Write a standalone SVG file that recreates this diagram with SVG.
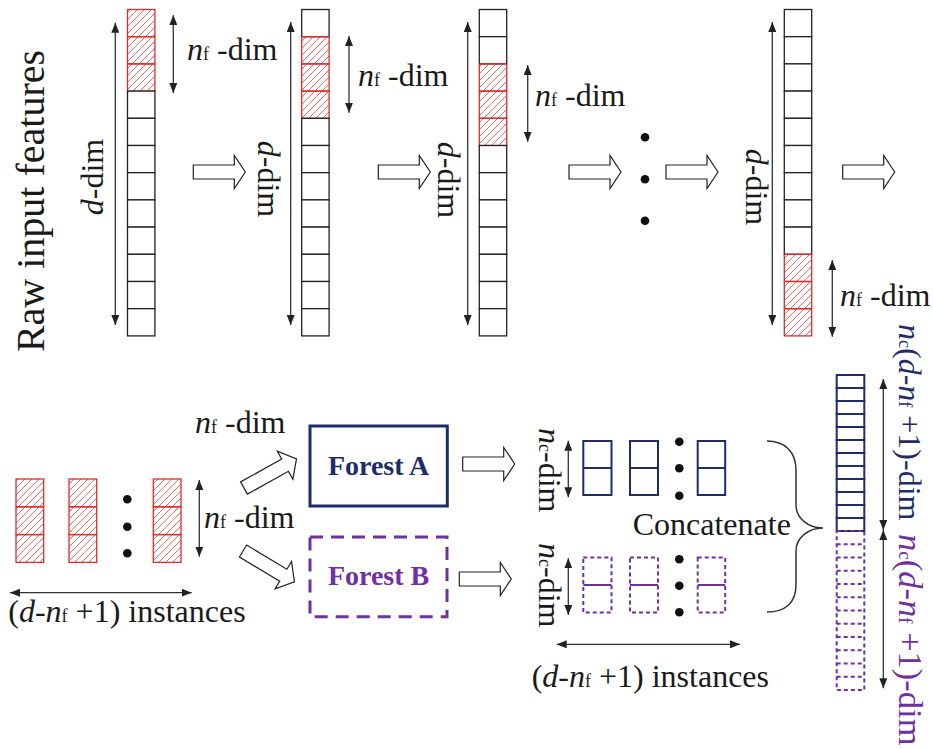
<svg xmlns="http://www.w3.org/2000/svg" width="933" height="749" viewBox="0 0 933 749" font-family="'Liberation Serif', 'DejaVu Serif', serif">
<defs>
<pattern id="hatch" patternUnits="userSpaceOnUse" width="7" height="7">
<path d="M0,7 L7,0 M-1,1 L1,-1 M6,8 L8,6" stroke="#e35a5a" stroke-width="0.9"/>
</pattern>
<marker id="ah" viewBox="0 0 10 8" refX="10" refY="4" markerWidth="10" markerHeight="8" markerUnits="userSpaceOnUse" orient="auto-start-reverse"><path d="M0,0 L10,4 L0,8 z" fill="#222"/></marker>
<polygon id="ba" points="0,-7 41,-7 41,-16.5 52,0 41,16.5 41,7 0,7"/>
<polygon id="bd" points="0,-7 47,-7 47,-16 60,0 47,16 47,7 0,7"/>
</defs>
<style>
text{font-family:'Liberation Serif','DejaVu Serif',serif}
.t{font-size:32px;fill:#1a1a1a}
.i{font-style:italic}
.s{font-size:18px;font-style:normal}
.c{fill:#fff;stroke:#222;stroke-width:1.3}
.r{fill:url(#hatch);stroke:#e02b2b;stroke-width:1.3}
.dim{stroke:#333;stroke-width:1.3;fill:none}
.blk{fill:#fff;stroke:#222;stroke-width:1.2}
.nv{fill:#fff;stroke:#1f2d66;stroke-width:2}
.pu{fill:none;stroke:#7030a0;stroke-width:2;stroke-dasharray:4 3}
.dot{fill:#111}
</style>
<rect width="933" height="749" fill="#fff"/>

<g id="raw-label">
<text class="t" style="font-size:40px" text-anchor="middle" transform="translate(44,201) rotate(-90)">Raw input features</text>
</g>

<g id="col1">
<rect class="r" x="127.5" y="9.5" width="27.4" height="27.2"/>
<rect class="r" x="127.5" y="36.7" width="27.4" height="27.2"/>
<rect class="r" x="127.5" y="63.9" width="27.4" height="27.2"/>
<rect class="c" x="127.5" y="91.1" width="27.4" height="27.2"/>
<rect class="c" x="127.5" y="118.3" width="27.4" height="27.2"/>
<rect class="c" x="127.5" y="145.5" width="27.4" height="27.2"/>
<rect class="c" x="127.5" y="172.7" width="27.4" height="27.2"/>
<rect class="c" x="127.5" y="199.9" width="27.4" height="27.2"/>
<rect class="c" x="127.5" y="227.1" width="27.4" height="27.2"/>
<rect class="c" x="127.5" y="254.3" width="27.4" height="27.2"/>
<rect class="c" x="127.5" y="281.5" width="27.4" height="27.2"/>
<rect class="c" x="127.5" y="308.7" width="27.4" height="27.2"/>
<text class="t" text-anchor="middle" transform="translate(103,177) rotate(-90)"><tspan class="i">d</tspan>-dim</text>
<text class="t" x="187" y="60"><tspan class="i">n</tspan><tspan class="s">f</tspan> -dim</text>
</g>

<g id="col2">
<rect class="c" x="301.7" y="9.5" width="27.4" height="27.2"/>
<rect class="r" x="301.7" y="36.7" width="27.4" height="27.2"/>
<rect class="r" x="301.7" y="63.9" width="27.4" height="27.2"/>
<rect class="r" x="301.7" y="91.1" width="27.4" height="27.2"/>
<rect class="c" x="301.7" y="118.3" width="27.4" height="27.2"/>
<rect class="c" x="301.7" y="145.5" width="27.4" height="27.2"/>
<rect class="c" x="301.7" y="172.7" width="27.4" height="27.2"/>
<rect class="c" x="301.7" y="199.9" width="27.4" height="27.2"/>
<rect class="c" x="301.7" y="227.1" width="27.4" height="27.2"/>
<rect class="c" x="301.7" y="254.3" width="27.4" height="27.2"/>
<rect class="c" x="301.7" y="281.5" width="27.4" height="27.2"/>
<rect class="c" x="301.7" y="308.7" width="27.4" height="27.2"/>
<text class="t" text-anchor="middle" transform="translate(258,179) rotate(90)"><tspan class="i">d</tspan>-dim</text>
<text class="t" x="358" y="86"><tspan class="i">n</tspan><tspan class="s">f</tspan> -dim</text>
</g>

<g id="col3">
<rect class="c" x="479.3" y="9.5" width="27.4" height="27.2"/>
<rect class="c" x="479.3" y="36.7" width="27.4" height="27.2"/>
<rect class="r" x="479.3" y="63.9" width="27.4" height="27.2"/>
<rect class="r" x="479.3" y="91.1" width="27.4" height="27.2"/>
<rect class="r" x="479.3" y="118.3" width="27.4" height="27.2"/>
<rect class="c" x="479.3" y="145.5" width="27.4" height="27.2"/>
<rect class="c" x="479.3" y="172.7" width="27.4" height="27.2"/>
<rect class="c" x="479.3" y="199.9" width="27.4" height="27.2"/>
<rect class="c" x="479.3" y="227.1" width="27.4" height="27.2"/>
<rect class="c" x="479.3" y="254.3" width="27.4" height="27.2"/>
<rect class="c" x="479.3" y="281.5" width="27.4" height="27.2"/>
<rect class="c" x="479.3" y="308.7" width="27.4" height="27.2"/>
<text class="t" text-anchor="middle" transform="translate(438,180) rotate(90)"><tspan class="i">d</tspan>-dim</text>
<text class="t" x="535" y="106"><tspan class="i">n</tspan><tspan class="s">f</tspan> -dim</text>
</g>

<g id="top-dots">
<circle class="dot" cx="645" cy="137.3" r="4.3"/>
<circle class="dot" cx="645" cy="179.3" r="4.3"/>
<circle class="dot" cx="645" cy="220.7" r="4.3"/>
</g>

<g id="col4">
<rect class="c" x="784.3" y="9.5" width="27.4" height="27.2"/>
<rect class="c" x="784.3" y="36.7" width="27.4" height="27.2"/>
<rect class="c" x="784.3" y="63.9" width="27.4" height="27.2"/>
<rect class="c" x="784.3" y="91.1" width="27.4" height="27.2"/>
<rect class="c" x="784.3" y="118.3" width="27.4" height="27.2"/>
<rect class="c" x="784.3" y="145.5" width="27.4" height="27.2"/>
<rect class="c" x="784.3" y="172.7" width="27.4" height="27.2"/>
<rect class="c" x="784.3" y="199.9" width="27.4" height="27.2"/>
<rect class="c" x="784.3" y="227.1" width="27.4" height="27.2"/>
<rect class="r" x="784.3" y="254.3" width="27.4" height="27.2"/>
<rect class="r" x="784.3" y="281.5" width="27.4" height="27.2"/>
<rect class="r" x="784.3" y="308.7" width="27.4" height="27.2"/>
<text class="t" text-anchor="middle" transform="translate(746,187) rotate(90)"><tspan class="i">d</tspan>-dim</text>
<text class="t" x="840" y="306"><tspan class="i">n</tspan><tspan class="s">f</tspan> -dim</text>
</g>

<g id="instances-in">
<rect class="r" x="16" y="479" width="27.7" height="27.8"/>
<rect class="r" x="16" y="506.8" width="27.7" height="27.8"/>
<rect class="r" x="16" y="534.6" width="27.7" height="27.8"/>
<rect class="r" x="69" y="479" width="27.7" height="27.8"/>
<rect class="r" x="69" y="506.8" width="27.7" height="27.8"/>
<rect class="r" x="69" y="534.6" width="27.7" height="27.8"/>
<rect class="r" x="153.3" y="479" width="27.7" height="27.8"/>
<rect class="r" x="153.3" y="506.8" width="27.7" height="27.8"/>
<rect class="r" x="153.3" y="534.6" width="27.7" height="27.8"/>
<circle class="dot" cx="127.3" cy="499.3" r="4.3"/>
<circle class="dot" cx="127.3" cy="526.7" r="4.3"/>
<circle class="dot" cx="127.3" cy="553.3" r="4.3"/>
<text class="t" x="204" y="528"><tspan class="i">n</tspan><tspan class="s">f</tspan> -dim</text>
<text class="t" x="195" y="433"><tspan class="i">n</tspan><tspan class="s">f</tspan> -dim</text>
<text class="t" x="8.3" y="621.7">(<tspan class="i">d</tspan>-<tspan class="i">n</tspan><tspan class="s">f</tspan> +1) instances</text>
</g>

<g id="forest-a">
<rect x="310" y="426" width="137.3" height="80" fill="#fff" stroke="#1f2d66" stroke-width="3"/>
<text class="t" x="378.6" y="475" text-anchor="middle" style="font-size:28px;font-weight:bold;fill:#1f2d66">Forest A</text>
</g>

<g id="forest-b">
<rect x="310" y="537" width="137" height="79.7" fill="#fff" stroke="#7030a0" stroke-width="3" stroke-dasharray="13 8"/>
<text class="t" x="378.6" y="585" text-anchor="middle" style="font-size:28px;font-weight:bold;fill:#7030a0">Forest B</text>
</g>

<g id="out-a">
<rect class="nv" x="583.3" y="441" width="28.2" height="54"/>
<line x1="583.3" y1="468" x2="611.5" y2="468" stroke="#1f2d66" stroke-width="2"/>
<rect class="nv" x="630" y="441" width="28" height="54"/>
<line x1="630" y1="468" x2="658" y2="468" stroke="#1f2d66" stroke-width="2"/>
<rect class="nv" x="697.7" y="441" width="27.5" height="54"/>
<line x1="697.7" y1="468" x2="725.2" y2="468" stroke="#1f2d66" stroke-width="2"/>
<circle class="dot" cx="679.3" cy="441.7" r="4.3"/>
<circle class="dot" cx="679.3" cy="468.3" r="4.3"/>
<circle class="dot" cx="679.3" cy="495.7" r="4.3"/>
<text class="t" transform="translate(539,428) rotate(90)"><tspan class="i">n</tspan><tspan class="s">c</tspan>-dim</text>
</g>

<g id="out-b">
<rect class="pu" x="583.3" y="557.5" width="28.2" height="55"/>
<line x1="583.3" y1="585" x2="611.5" y2="585" stroke="#7030a0" stroke-width="2"/>
<rect class="pu" x="630" y="557.5" width="28" height="55"/>
<line x1="630" y1="585" x2="658" y2="585" stroke="#7030a0" stroke-width="2"/>
<rect class="pu" x="697.7" y="557.5" width="27.5" height="55"/>
<line x1="697.7" y1="585" x2="725.2" y2="585" stroke="#7030a0" stroke-width="2"/>
<circle class="dot" cx="679.3" cy="559.3" r="4.3"/>
<circle class="dot" cx="679.3" cy="585.7" r="4.3"/>
<circle class="dot" cx="679.3" cy="612.3" r="4.3"/>
<text class="t" transform="translate(539,543) rotate(90)"><tspan class="i">n</tspan><tspan class="s">c</tspan>-dim</text>
<text class="t" x="531.7" y="687.3">(<tspan class="i">d</tspan>-<tspan class="i">n</tspan><tspan class="s">f</tspan> +1) instances</text>
</g>

<g id="concat">
<text class="t" x="632.7" y="535">Concatenate</text>
<path d="M767,441 C785,441 796,452 796,470 L796,505 C796,518 808,528 823,528 C808,528 796,538 796,551 L796,585 C796,603 785,612 767,612" fill="none" stroke="#333" stroke-width="1.5"/>
</g>

<g id="final-vector">
<rect class="nv" x="836.7" y="375" width="27.6" height="13"/>
<rect class="nv" x="836.7" y="388" width="27.6" height="13"/>
<rect class="nv" x="836.7" y="401" width="27.6" height="13"/>
<rect class="nv" x="836.7" y="414" width="27.6" height="13"/>
<rect class="nv" x="836.7" y="427" width="27.6" height="13"/>
<rect class="nv" x="836.7" y="440" width="27.6" height="13"/>
<rect class="nv" x="836.7" y="453" width="27.6" height="13"/>
<rect class="nv" x="836.7" y="466" width="27.6" height="13"/>
<rect class="nv" x="836.7" y="479" width="27.6" height="13"/>
<rect class="nv" x="836.7" y="492" width="27.6" height="13"/>
<rect class="nv" x="836.7" y="505" width="27.6" height="13"/>
<rect class="nv" x="836.7" y="518" width="27.6" height="13"/>
<rect class="pu" x="836.7" y="531" width="27.6" height="159"/>
<path class="pu" d="M836.7,544.25 H864.3 M836.7,557.5 H864.3 M836.7,570.75 H864.3 M836.7,584 H864.3 M836.7,597.25 H864.3 M836.7,610.5 H864.3 M836.7,623.75 H864.3 M836.7,637 H864.3 M836.7,650.25 H864.3 M836.7,663.5 H864.3 M836.7,676.75 H864.3"/>
<text class="t" style="fill:#1f2d66" transform="translate(899,324) rotate(90)"><tspan class="i">n</tspan><tspan class="s">c</tspan>(<tspan class="i">d</tspan>-<tspan class="i">n</tspan><tspan class="s">f</tspan> +1)-dim</text>
<text class="t" style="fill:#7030a0;font-size:34.5px" transform="translate(899,534) rotate(90)"><tspan class="i">n</tspan><tspan class="s" style="font-size:19px">c</tspan>(<tspan class="i">d</tspan>-<tspan class="i">n</tspan><tspan class="s" style="font-size:19px">f</tspan> +1)-dim</text>
</g>

<g id="connectors">
<line class="dim" x1="115.3" y1="22.7" x2="115.3" y2="325" marker-start="url(#ah)" marker-end="url(#ah)"/>
<line class="dim" x1="173.3" y1="15" x2="173.3" y2="93" marker-start="url(#ah)" marker-end="url(#ah)"/>
<line class="dim" x1="290.7" y1="22" x2="290.7" y2="325" marker-start="url(#ah)" marker-end="url(#ah)"/>
<line class="dim" x1="349" y1="36" x2="349" y2="112.7" marker-start="url(#ah)" marker-end="url(#ah)"/>
<line class="dim" x1="467.7" y1="22" x2="467.7" y2="325" marker-start="url(#ah)" marker-end="url(#ah)"/>
<line class="dim" x1="527.7" y1="65" x2="527.7" y2="141.7" marker-start="url(#ah)" marker-end="url(#ah)"/>
<line class="dim" x1="772.3" y1="22" x2="772.3" y2="325" marker-start="url(#ah)" marker-end="url(#ah)"/>
<line class="dim" x1="832.3" y1="260" x2="832.3" y2="336.7" marker-start="url(#ah)" marker-end="url(#ah)"/>
<line class="dim" x1="199.3" y1="480" x2="199.3" y2="556.7" marker-start="url(#ah)" marker-end="url(#ah)"/>
<line class="dim" x1="10" y1="592.7" x2="191.7" y2="592.7" marker-start="url(#ah)" marker-end="url(#ah)"/>
<line class="dim" x1="568.3" y1="440.7" x2="568.3" y2="497.3" marker-start="url(#ah)" marker-end="url(#ah)"/>
<line class="dim" x1="568.3" y1="558.3" x2="568.3" y2="615" marker-start="url(#ah)" marker-end="url(#ah)"/>
<line class="dim" x1="556.7" y1="644.3" x2="740" y2="644.3" marker-start="url(#ah)" marker-end="url(#ah)"/>
<line class="dim" x1="883.3" y1="379" x2="883.3" y2="530" marker-start="url(#ah)" marker-end="url(#ah)"/>
<line class="dim" x1="883.3" y1="530" x2="883.3" y2="688.3" marker-start="url(#ah)" marker-end="url(#ah)"/>
<use href="#ba" class="blk" transform="translate(193.3,172)"/>
<use href="#ba" class="blk" transform="translate(378.3,172)"/>
<use href="#ba" class="blk" transform="translate(569,172)"/>
<use href="#ba" class="blk" transform="translate(666,172)"/>
<use href="#ba" class="blk" transform="translate(842.7,172)"/>
<use href="#ba" class="blk" transform="translate(462.7,464)"/>
<use href="#ba" class="blk" transform="translate(459.3,579)"/>
<use href="#bd" class="blk" transform="translate(244,488) rotate(-29)"/>
<use href="#bd" class="blk" transform="translate(243,551) rotate(31)"/>
</g>
</svg>
